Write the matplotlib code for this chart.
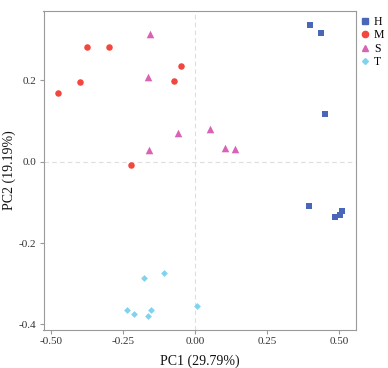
import matplotlib
matplotlib.use('Agg')
import matplotlib.pyplot as plt
from matplotlib.lines import Line2D

plt.rcParams['font.family'] = ['Liberation Serif', 'DejaVu Serif']

groups = ['H', 'M', 'S', 'T']
colors = ['#4a67b7', '#f2473f', '#d863b4', '#7fd3ef']
markers = ['s', 'o', '^', 'D']
sizes = [22, 22, 30, 12]

pc1 = {
    'H': [0.400, 0.436, 0.450, 0.395, 0.486, 0.503, 0.510],
    'M': [-0.475, -0.397, -0.373, -0.297, -0.072, -0.050, -0.222],
    'S': [-0.156, -0.162, -0.060, -0.159, 0.052, 0.104, 0.140],
    'T': [-0.237, -0.210, -0.164, -0.153, -0.176, -0.106, 0.006],
}
pc2 = {
    'H': [0.336, 0.317, 0.118, -0.109, -0.136, -0.131, -0.121],
    'M': [0.168, 0.197, 0.282, 0.281, 0.199, 0.236, -0.007],
    'S': [0.314, 0.209, 0.071, 0.029, 0.080, 0.034, 0.032],
    'T': [-0.364, -0.374, -0.380, -0.366, -0.286, -0.273, -0.356],
}

fig = plt.figure(figsize=(3.88, 3.68), dpi=100)
ax = fig.add_axes([43.5 / 388, 1 - 330 / 368, (355.5 - 43.5) / 388, (330 - 10.5) / 368])

ax.axhline(0, color='#dddddd', lw=0.8, ls=(0, (4, 3)), zorder=0)
ax.axvline(0, color='#dddddd', lw=0.8, ls=(0, (4, 3)), zorder=0)

for g, c, m, s in zip(groups, colors, markers, sizes):
    ax.scatter(pc1[g], pc2[g], c=c, marker=m, s=s, linewidths=0, zorder=3)

ax.set_xlim(-0.525, 0.556)
ax.set_ylim(-0.414, 0.372)
ax.set_xticks([-0.5, -0.25, 0, 0.25, 0.5])
ax.set_xticklabels(['-0.50', '-0.25', '0.00', '0.25', '0.50'])
ax.set_yticks([-0.4, -0.2, 0, 0.2])
ax.set_yticklabels(['-0.4', '-0.2', '0.0', '0.2'])
for sp in ax.spines.values():
    sp.set_color('#999999')
    sp.set_linewidth(0.8)
ax.tick_params(colors='#999999', labelcolor='#333333', labelsize=8, length=3, width=0.8, pad=2)

ax.set_xlabel('PC1 (29.79%)', fontsize=10, color='#111111')
ax.set_ylabel('PC2 (19.19%)', fontsize=10, color='#111111')
ax.xaxis.set_label_coords(0.5, -0.078)
ax.yaxis.set_label_coords(-0.088, 0.5)

handles = [Line2D([], [], ls='none', marker=m, color=c, markersize=ms)
           for c, m, ms in zip(colors, markers, [4.0, 4.5, 5.0, 3.0])]
fig.legend(handles, groups, loc='upper left', bbox_to_anchor=(361 / 388, 1 - 16 / 368),
           frameon=False, fontsize=8.5, handlelength=0.6, handletextpad=0.5,
           labelspacing=0.12, borderpad=0, borderaxespad=0)

fig.savefig('out.png', dpi=100)
